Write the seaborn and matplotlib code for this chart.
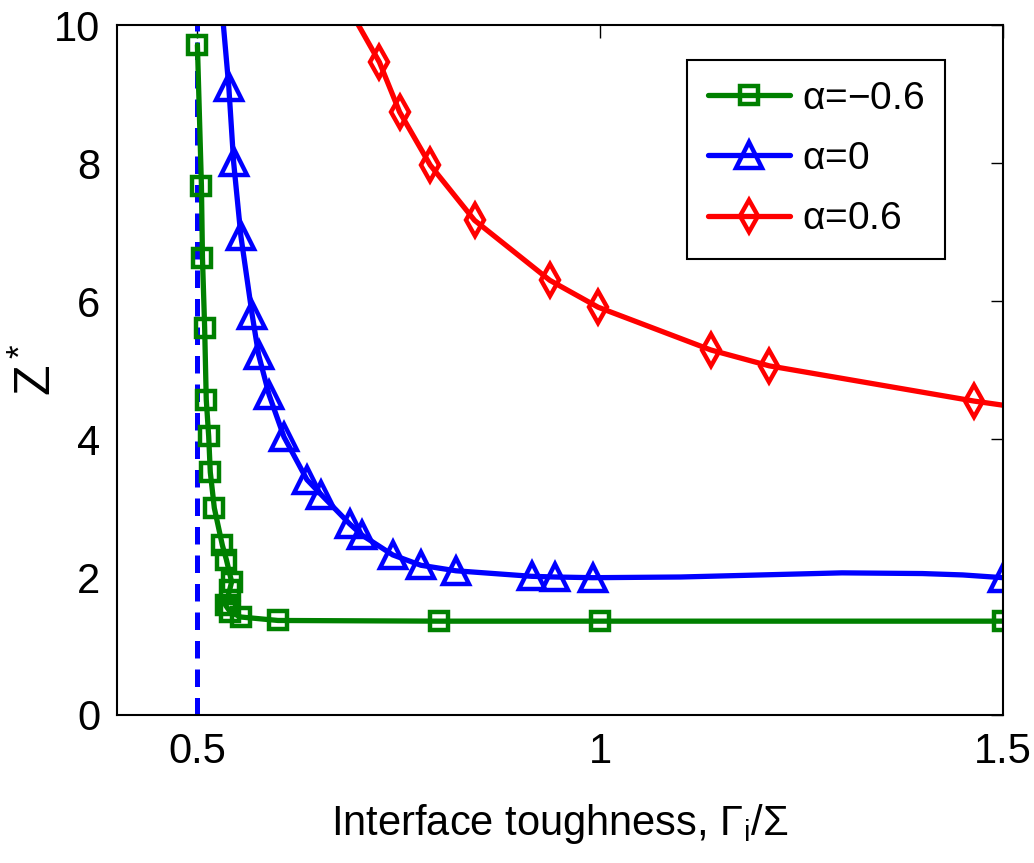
import matplotlib
matplotlib.use('Agg')
import matplotlib.pyplot as plt
import seaborn as sns
import pandas as pd

# alpha = -0.6 (green squares)
x_neg = [0.500, 0.505, 0.5063, 0.509, 0.511, 0.514, 0.516, 0.521, 0.531, 0.536,
         0.5425, 0.540, 0.535, 0.541, 0.554, 0.600, 0.800, 1.000, 1.500]
y_neg = [9.71, 7.67, 6.62, 5.61, 4.57, 4.04, 3.52, 3.00, 2.46, 2.25,
         1.93, 1.81, 1.59, 1.49, 1.42, 1.37, 1.36, 1.36, 1.36]

# alpha = 0 (blue triangles); line also goes through a few unmarked points
x_zero = [0.530, 0.539, 0.545, 0.554, 0.568, 0.576, 0.589, 0.6075, 0.636, 0.654,
          0.689, 0.704, 0.7425, 0.7775, 0.821, 0.915, 0.944, 0.991,
          1.10, 1.20, 1.30, 1.40, 1.45, 1.50]
y_zero = [10.3, 9.10, 8.01, 6.94, 5.80, 5.22, 4.64, 4.03, 3.41, 3.19,
          2.77, 2.61, 2.32, 2.17, 2.09, 2.01, 2.00, 1.99,
          2.00, 2.03, 2.06, 2.05, 2.03, 1.99]
zero_marks = list(range(1, 18)) + [23]

# alpha = 0.6 (red diamonds)
x_pos = [0.695, 0.726, 0.751, 0.789, 0.844, 0.9375, 0.9975, 1.1375, 1.21, 1.464, 1.500]
y_pos = [10.1, 9.46, 8.74, 7.97, 7.17, 6.30, 5.91, 5.29, 5.06, 4.55, 4.49]
pos_marks = list(range(1, 10))

x_ticks = [0.5, 1, 1.5]
x_tick_labels = ['0.5', '1', '1.5']
y_ticks = [0, 2, 4, 6, 8, 10]

sns.set_style('white')
plt.rcParams['font.family'] = ['Liberation Sans', 'DejaVu Sans']
plt.rcParams['mathtext.fontset'] = 'custom'
plt.rcParams['mathtext.rm'] = 'Liberation Sans'
plt.rcParams['text.color'] = 'black'
plt.rcParams['xtick.color'] = 'black'
plt.rcParams['ytick.color'] = 'black'
plt.rcParams['axes.labelcolor'] = 'black'

fig = plt.figure(figsize=(10.34, 8.63), dpi=100)
ax = fig.add_axes([0.113, 0.1715, 0.857, 0.7995])

# dashed asymptote
ax.plot([0.5, 0.5], [0, 10], color='blue', linestyle=(0, (3.5, 2.2)), linewidth=3.6, zorder=1)

df_neg = pd.DataFrame({'x': x_neg, 'y': y_neg})
df_zero = pd.DataFrame({'x': x_zero, 'y': y_zero})
df_pos = pd.DataFrame({'x': x_pos, 'y': y_pos})

lw = 3.8
sns.lineplot(data=df_neg, x='x', y='y', sort=False, estimator=None, ax=ax,
             color='#008000', linewidth=lw, marker='s', markersize=13,
             markerfacecolor='none', markeredgecolor='#008000', markeredgewidth=3.2,
             label=r'$\mathregular{\alpha}$=−0.6')
sns.lineplot(data=df_zero, x='x', y='y', sort=False, estimator=None, ax=ax,
             color='blue', linewidth=lw, marker='^', markersize=19, markevery=zero_marks,
             markerfacecolor='none', markeredgecolor='blue', markeredgewidth=3.2,
             label=r'$\mathregular{\alpha}$=0')
sns.lineplot(data=df_pos, x='x', y='y', sort=False, estimator=None, ax=ax,
             color='red', linewidth=lw, marker='d', markersize=16, markevery=pos_marks,
             markerfacecolor='none', markeredgecolor='red', markeredgewidth=3.2,
             label=r'$\mathregular{\alpha}$=0.6')

ax.set_xlim(0.4, 1.5)
ax.set_ylim(0, 10)
ax.set_xticks(x_ticks)
ax.set_xticklabels(x_tick_labels)
ax.set_yticks(y_ticks)
ax.tick_params(direction='in', length=9, width=1, top=True, right=True,
               labelsize=30, pad=12)
for s in ax.spines.values():
    s.set_color('black')
    s.set_linewidth(1.5)

ax.set_xlabel(r'Interface toughness, $\mathregular{\Gamma_i/\Sigma}$', fontsize=30, labelpad=22)
ax.set_ylabel(r'$\mathregular{Z^*}$', fontsize=36)
ax.yaxis.set_label_coords(-0.063, 0.5)

leg = ax.legend(loc='upper right', bbox_to_anchor=(0.935, 0.95), fontsize=28,
                frameon=True, fancybox=False, framealpha=1, edgecolor='black',
                handlelength=2.1, handletextpad=0.3, borderpad=0.55, labelspacing=0.62,
                borderaxespad=0)
leg.get_frame().set_linewidth(1.5)

plt.savefig('out.png', dpi=100)
plt.close()
